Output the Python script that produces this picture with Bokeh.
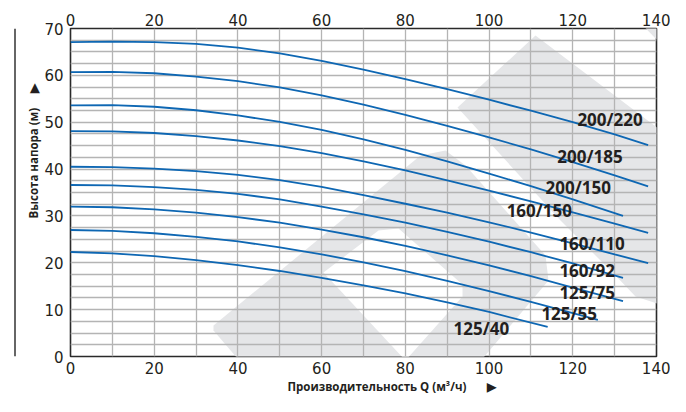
from bokeh.plotting import figure
from bokeh.layouts import row
from bokeh.models import Range1d, FixedTicker, LinearAxis, PolyAnnotation, ColumnDataSource, Title, Span
from bokeh.core.properties import value
from bokeh.embed import file_html
from bokeh.resources import INLINE

# ---- data -------------------------------------------------------------
pump_names = ["200/220", "200/185", "200/150", "160/150", "160/110",
              "160/92", "125/75", "125/55", "125/40"]

q_200_220 = [0, 10, 20, 30, 40, 50, 60, 70, 80, 90, 100, 110, 120, 130, 138]
h_200_220 = [67.1, 67.2, 67.1, 66.7, 65.9, 64.7, 63.1, 61.2, 59.2, 57.05, 54.8, 52.45, 50.0, 47.4, 45.1]

q_200_185 = [0, 10, 20, 30, 40, 50, 60, 70, 80, 90, 100, 110, 120, 130, 138]
h_200_185 = [60.7, 60.75, 60.45, 59.75, 58.75, 57.45, 55.75, 53.75, 51.55, 49.2, 46.75, 44.2, 41.5, 38.65, 36.3]

q_200_150 = [0, 10, 20, 30, 40, 50, 60, 70, 80, 90, 100, 110, 120, 132]
h_200_150 = [53.6, 53.65, 53.3, 52.55, 51.45, 50.05, 48.35, 46.35, 44.1, 41.65, 39.05, 36.35, 33.55, 30.0]

q_160_150 = [0, 10, 20, 30, 40, 50, 60, 70, 80, 90, 100, 110, 120, 130, 138]
h_160_150 = [48.1, 48.05, 47.7, 47.05, 46.1, 44.9, 43.4, 41.65, 39.7, 37.6, 35.4, 33.1, 30.75, 28.35, 26.4]

q_160_110 = [0, 10, 20, 30, 40, 50, 60, 70, 80, 90, 100, 110, 120, 130, 138]
h_160_110 = [40.5, 40.4, 40.1, 39.55, 38.75, 37.65, 36.2, 34.45, 32.6, 30.7, 28.65, 26.45, 24.15, 21.8, 19.95]

q_160_92 = [0, 10, 20, 30, 40, 50, 60, 70, 80, 90, 100, 110, 120, 132]
h_160_92 = [36.6, 36.5, 36.15, 35.55, 34.7, 33.55, 32.0, 30.35, 28.55, 26.6, 24.5, 22.25, 19.85, 16.8]

q_125_75 = [0, 10, 20, 30, 40, 50, 60, 70, 80, 90, 100, 110, 120, 132]
h_125_75 = [32.0, 31.85, 31.4, 30.7, 29.75, 28.55, 27.1, 25.45, 23.6, 21.6, 19.45, 17.15, 14.7, 11.8]

q_125_55 = [0, 10, 20, 30, 40, 50, 60, 70, 80, 90, 100, 110, 120, 126]
h_125_55 = [27.0, 26.8, 26.3, 25.55, 24.55, 23.3, 21.8, 20.1, 18.2, 16.15, 13.95, 11.65, 9.25, 7.8]

q_125_40 = [0, 10, 20, 30, 40, 50, 60, 70, 80, 90, 100, 114]
h_125_40 = [22.3, 22.0, 21.4, 20.55, 19.5, 18.25, 16.8, 15.2, 13.45, 11.55, 9.5, 6.3]

x_ticks = [0, 20, 40, 60, 80, 100, 120, 140]
y_ticks = [0, 10, 20, 30, 40, 50, 60, 70]

x_title = "Производительность Q (м³/ч)"
y_title = "Высота напора (м)"

# label anchor points (data units)
label_q = [121.1, 116.3, 113.5, 104.2, 116.8, 116.8, 116.8, 112.5, 91.5]
label_h = [50.6, 42.7, 36.1, 31.1, 24.2, 18.4, 13.7, 9.2, 5.9]

curves_q = [q_200_220, q_200_185, q_200_150, q_160_150, q_160_110,
            q_160_92, q_125_75, q_125_55, q_125_40]
curves_h = [h_200_220, h_200_185, h_200_150, h_160_150, h_160_110,
            h_160_92, h_125_75, h_125_55, h_125_40]

TXT = "#231f20"
GREY = "#e5e6e8"
NB = "\u00a0"

# ---- thin left rule (separate strip) ----------------------------------
rule = figure(width=22, height=396, output_backend="svg", toolbar_location=None,
              x_range=Range1d(0, 22), y_range=Range1d(0, 1),
              x_axis_type=None, y_axis_type=None,
              min_border_left=0, min_border_right=0, min_border_top=21,
              min_border_bottom=39, outline_line_color=None)
rule.grid.visible = False
rule.add_layout(Span(location=14.5, dimension="height", line_color="#333333", line_width=1.5))

# ---- main figure ------------------------------------------------------
p = figure(width=648, height=396, output_backend="svg", toolbar_location=None,
           x_range=Range1d(0, 140), y_range=Range1d(0, 70),
           min_border_left=48, min_border_right=14, min_border_top=28,
           min_border_bottom=40, background_fill_color=None,
           border_fill_color="white")

# watermark (decorative, canvas px, main figure starts 22px right)
def wm(xs, ys, color=GREY):
    p.add_layout(PolyAnnotation(xs=[x - 22 for x in xs], ys=list(ys),
                                xs_units="canvas", ys_units="canvas",
                                fill_color=color, fill_alpha=1.0,
                                line_color=None, level="image"))

wm([618, 700, 700], [0, 0, 84])
wm([535, 700, 700, 660, 635, 615, 560, 457],
   [35, 160, 304, 304, 296, 275, 220, 107])
wm([213, 420, 445, 465, 545, 548, 430, 290, 213],
   [325, 155, 150, 165, 255, 280, 420, 420, 330])
wm([323, 378, 398, 462, 462, 405], [272, 230, 228, 284, 296, 360], color="white")

# grid
p.xgrid.ticker = FixedTicker(ticks=list(range(0, 141, 10)))
p.ygrid.ticker = FixedTicker(ticks=[i * 2.5 for i in range(29)])
for g in (p.xgrid, p.ygrid):
    g.grid_line_color = "#b4b4b4"
    g.grid_line_width = 1.3

p.outline_line_color = "#2a2a2a"
p.outline_line_width = 1.6

# axes
top_axis = LinearAxis()
p.add_layout(top_axis, "above")
for ax in list(p.xaxis) + list(p.yaxis):
    ax.axis_line_color = None
    ax.major_tick_line_color = None
    ax.minor_tick_line_color = None
    ax.major_tick_out = 0
    ax.minor_tick_out = 0
    ax.major_tick_in = 0
    ax.minor_tick_in = 0
    ax.major_label_text_font = "DejaVu Sans"
    ax.major_label_text_font_size = "15px"
    ax.major_label_text_color = TXT
for ax in p.xaxis:
    ax.ticker = FixedTicker(ticks=x_ticks)
    ax.major_label_standoff = 5
top_axis.major_label_standoff = 3
for ax in p.yaxis:
    ax.ticker = FixedTicker(ticks=y_ticks)
    ax.major_label_standoff = 7

# curves
for qs, hs in zip(curves_q, curves_h):
    p.line(qs, hs, line_color="#0e67b3", line_width=1.8)

# curve labels
src = ColumnDataSource(dict(x=label_q, y=label_h, t=pump_names))
p.text(x="x", y="y", text="t", source=src, text_font=value("Open Sans"),
       text_font_style="bold", text_font_size="17px", text_color=TXT,
       text_align="left", text_baseline="middle")

# axis titles
p.add_layout(Title(text=x_title + NB * 7 + "▶", align="left", offset=217, standoff=0,
                   text_font="Open Sans", text_font_style="bold",
                   text_font_size="11.5px", text_color=TXT), "below")
p.add_layout(Title(text=y_title + NB * 5 + "▶", align="left", offset=138, standoff=2,
                   text_font="Open Sans", text_font_style="bold",
                   text_font_size="11.5px", text_color=TXT), "left")

layout = row(rule, p, spacing=0)
open("out.html", "w").write(file_html(layout, INLINE))
